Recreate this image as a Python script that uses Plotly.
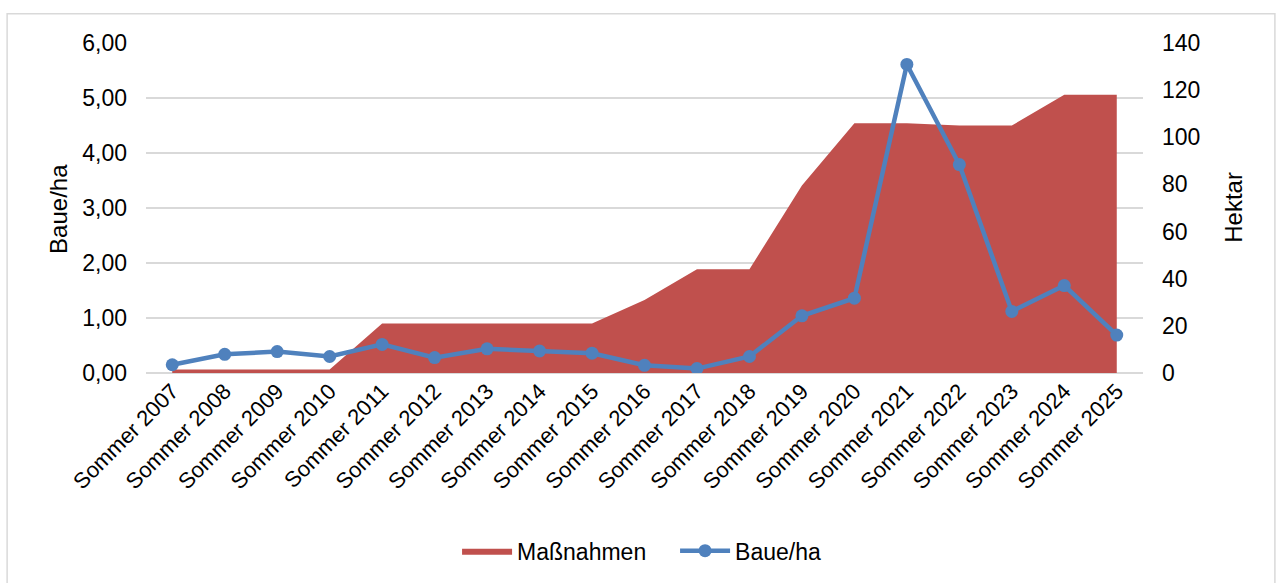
import plotly.graph_objects as go

categories = ["Sommer 2007", "Sommer 2008", "Sommer 2009", "Sommer 2010", "Sommer 2011",
              "Sommer 2012", "Sommer 2013", "Sommer 2014", "Sommer 2015", "Sommer 2016",
              "Sommer 2017", "Sommer 2018", "Sommer 2019", "Sommer 2020", "Sommer 2021",
              "Sommer 2022", "Sommer 2023", "Sommer 2024", "Sommer 2025"]
massnahmen_ha = [1.5, 1.5, 1.5, 1.5, 21, 21, 21, 21, 21, 31, 44, 44, 79.5, 106, 106, 105, 105, 118, 118]
baue_pro_ha = [0.15, 0.34, 0.39, 0.30, 0.52, 0.28, 0.44, 0.40, 0.36, 0.14, 0.08, 0.30, 1.04, 1.36,
               5.61, 3.79, 1.12, 1.59, 0.69]
left_ticks = [0, 1, 2, 3, 4, 5, 6]
right_ticks = [0, 20, 40, 60, 80, 100, 120, 140]

FONT = "Liberation Sans, Arial, sans-serif"
fig = go.Figure()
fig.add_trace(go.Scatter(
    x=categories, y=massnahmen_ha, name="Maßnahmen", mode="lines",
    fill="tozeroy", fillcolor="#C0504D", line=dict(color="#C0504D", width=0),
    yaxis="y"))
fig.add_trace(go.Scatter(
    x=categories, y=baue_pro_ha, name="Baue/ha", mode="lines+markers",
    line=dict(color="#4F81BD", width=4.5), marker=dict(color="#4F81BD", size=13),
    yaxis="y2"))

fig.update_layout(
    width=1276, height=583,
    margin=dict(l=145.5, r=133, t=43.3, b=208.7),
    paper_bgcolor="white", plot_bgcolor="white",
    separators=",.",
    font=dict(family=FONT, size=23, color="#000000"),
    showlegend=True,
    legend=dict(orientation="h", x=0.312, xanchor="left", y=-0.534, yanchor="middle",
                font=dict(size=23), traceorder="normal", itemwidth=50,
                entrywidth=153, entrywidthmode="pixels"),
    xaxis=dict(type="category", range=[-0.5, 18.5], tickangle=-45, showgrid=False,
               showline=False, ticks="", tickfont=dict(size=22)),
    yaxis=dict(side="right", range=[0, 140], tickvals=right_ticks, showgrid=False,
               zeroline=False, showline=False, ticks="", tickfont=dict(size=23),
               ticklabelstandoff=18),
    yaxis2=dict(side="left", overlaying="y", range=[0, 6], tickvals=left_ticks,
                tickformat=".2f", showgrid=True, gridcolor="#D9D9D9", gridwidth=1.5,
                zeroline=True, zerolinecolor="#D9D9D9", zerolinewidth=1.5,
                showline=False, ticks="", tickfont=dict(size=23), ticklabelstandoff=18),
    annotations=[
        dict(text="Baue/ha", xref="paper", yref="paper", x=-0.0877, y=0.496,
             textangle=-90, showarrow=False, font=dict(size=24), xanchor="center", yanchor="middle"),
        dict(text="Hektar", xref="paper", yref="paper", x=1.090, y=0.503,
             textangle=-90, showarrow=False, font=dict(size=24), xanchor="center", yanchor="middle"),
    ],
    shapes=[dict(type="rect", xref="paper", yref="paper", x0=-0.1393, x1=1.1323,
                 y0=-0.66, y1=1.0885, line=dict(color="#D9D9D9", width=1.5), layer="below")],
)

fig.write_html("out.html", config={"displayModeBar": False},
               post_script="document.body.style.margin='0';")
